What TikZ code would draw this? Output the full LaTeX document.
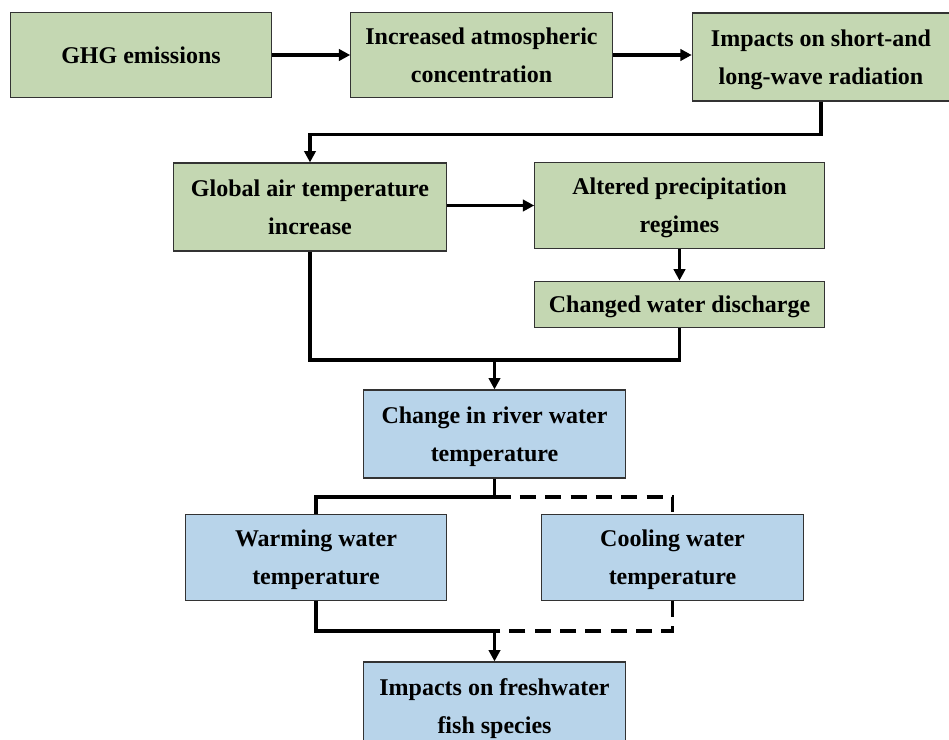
\documentclass[tikz,border=0pt]{standalone}
\usepackage{fontspec}
\setmainfont{Liberation Serif}
\usetikzlibrary{arrows.meta}
\definecolor{boxgreen}{RGB}{196,215,178}
\definecolor{boxblue}{RGB}{184,212,234}
\begin{document}
\begin{tikzpicture}[x=0.75pt,y=-0.75pt,
  box/.style={draw=black!80,line width=0.9pt,align=center,inner sep=0pt,
    text depth=0pt,font=\fontsize{18}{28.5}\selectfont\bfseries},
  gbox/.style={box,fill=boxgreen},
  bbox/.style={box,fill=boxblue},
  link/.style={line width=2.5pt},
  arr/.style={link,-{Triangle[length=8.5pt,width=8.5pt]}},
  dlink/.style={link,dash pattern=on 12pt off 7pt}]
  \useasboundingbox (0,0) rectangle (949,739);
  % top row
  \node[gbox,minimum width=196pt,minimum height=64pt] (ghg) at (141,55) {GHG emissions};
  \node[gbox,minimum width=196pt,minimum height=64pt] (conc) at (481.5,55) {Increased atmospheric\\concentration};
  \node[gbox,minimum width=193pt,minimum height=66pt] (rad) at (821,57) {Impacts on short-and\\long-wave radiation};
  % second row
  \node[gbox,minimum width=205pt,minimum height=66pt] (air) at (310,207) {Global air temperature\\increase};
  \node[gbox,minimum width=217pt,minimum height=64pt] (prec) at (679.5,205.5) {Altered precipitation\\regimes};
  \node[gbox,minimum width=217pt,minimum height=35pt] (disch) at (679.5,304.5) {Changed water discharge};
  % water temperature
  \node[bbox,minimum width=196pt,minimum height=66pt] (river) at (494.5,434) {Change in river water\\temperature};
  \node[bbox,minimum width=196pt,minimum height=64pt] (warm) at (316,557.5) {Warming water\\temperature};
  \node[bbox,minimum width=196pt,minimum height=64pt] (cool) at (672.5,557.5) {Cooling water\\temperature};
  \node[bbox,minimum width=196pt,minimum height=66pt] (fish) at (494.5,706) {Impacts on freshwater\\fish species};
  \coordinate (jn1) at (494.5,360);
  \coordinate (jn2) at (494.5,497);
  \coordinate (jn3) at (494.5,631);
  \draw[arr] (ghg) -- (conc);
  \draw[arr] (conc.east) -- (rad.west |- conc.east);
  \draw[arr] (rad.south) -- ++(0,33) -| (air.north);
  \draw[arr] (air.east |- prec.west) -- (prec.west);
  \draw[arr] (prec) -- (disch);
  \draw[link] (air.south) |- (jn1);
  \draw[link] (disch.south) |- (jn1);
  \draw[arr] (jn1) -- (river.north);
  \draw[link] (river.south) -- (jn2) -| (warm.north);
  \draw[dlink] (jn2) -| (cool.north);
  \draw[link] (warm.south) |- (jn3);
  \draw[dlink] (cool.south) |- (jn3);
  \draw[arr] (jn3) -- (fish.north);
\end{tikzpicture}
\end{document}
